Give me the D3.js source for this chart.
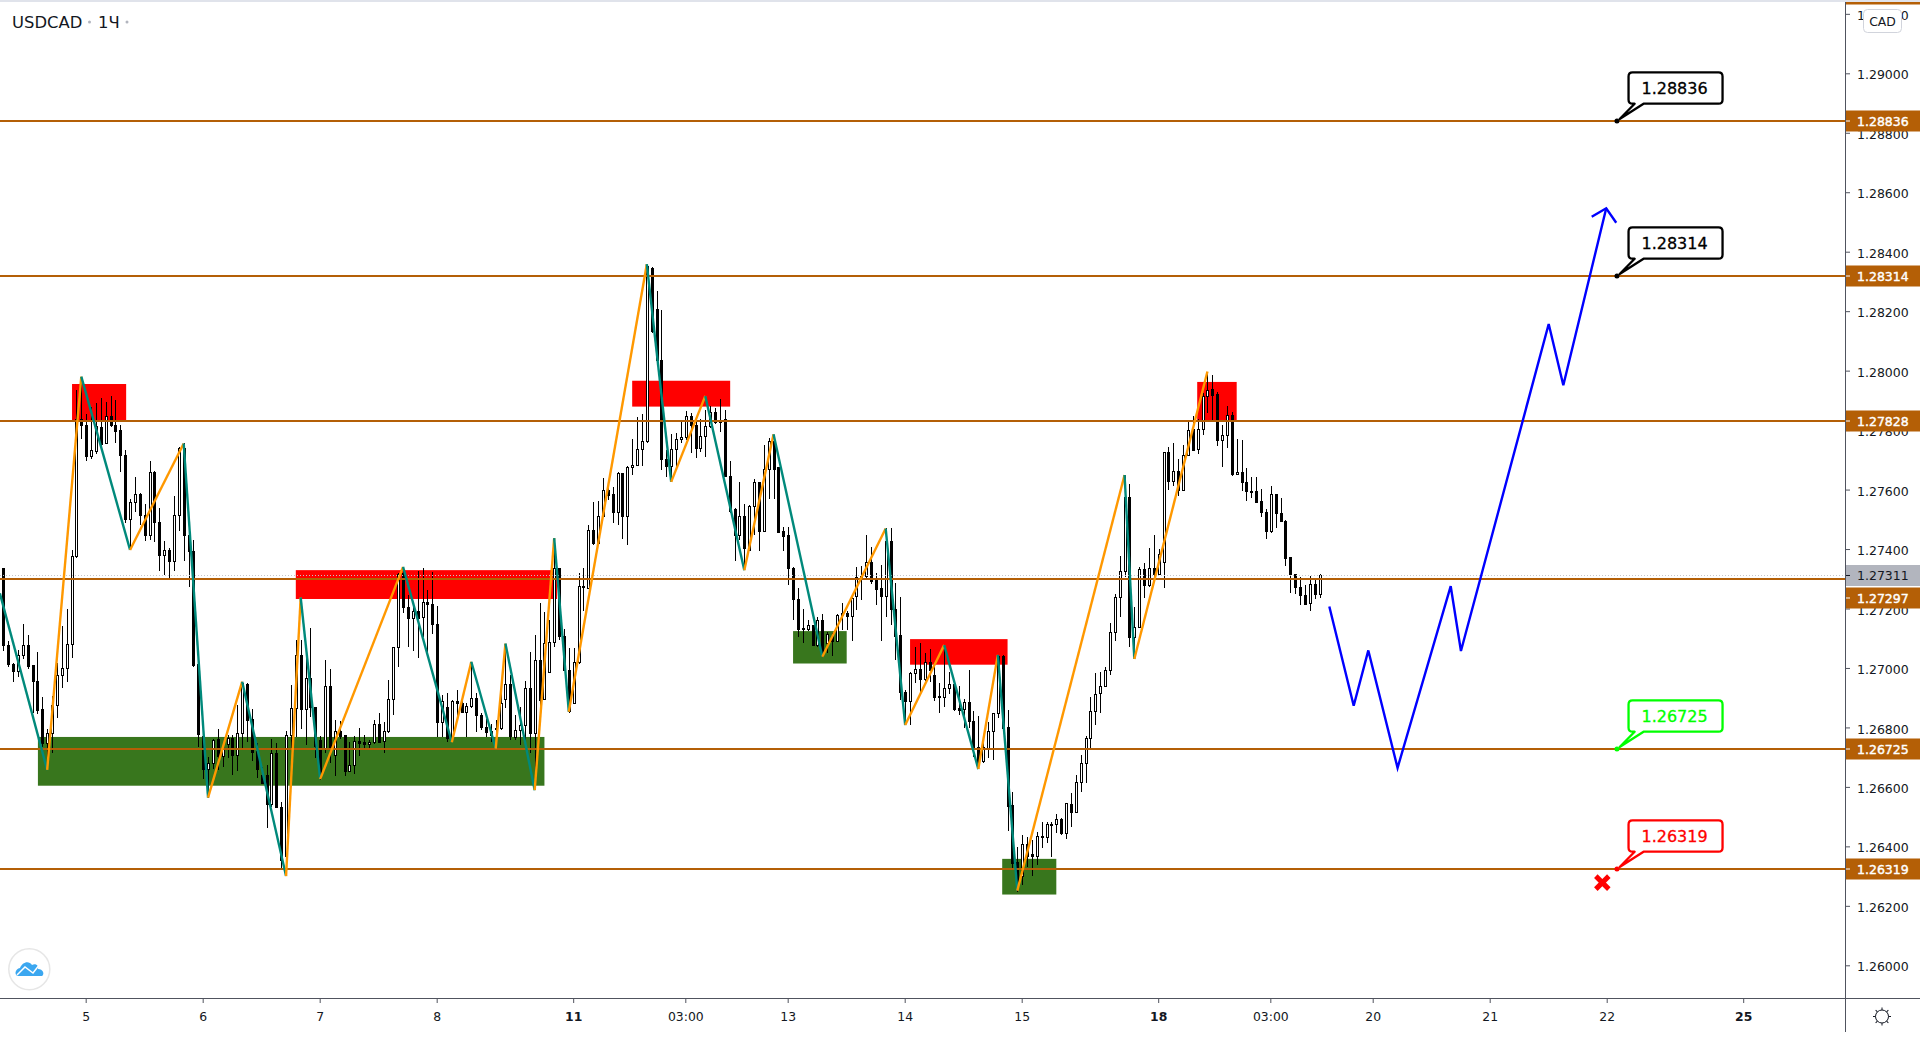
<!DOCTYPE html>
<html>
<head>
<meta charset="utf-8">
<script src="https://cdn.jsdelivr.net/npm/d3@7"></script>
<style>
  html, body { margin: 0; background: #fff; overflow: hidden; }
  text { font-family: "DejaVu Sans", sans-serif; }
</style>
</head>
<body>
<div class="canvas"></div>
<script>
// Hourly candles, prices in 1e-5 units
const opens = [
127333,127077,127013,126988,127042,127074,127007,126955,126859,126746,
126780,126875,126975,126999,127079,127375,127836,127817,127711,127727,
127809,127755,127846,127817,127797,127715,127500,127557,127585,127513,
127445,127658,127490,127378,127396,127357,127513,127739,127445,127392,
127010,126769,126659,126679,126758,126702,126741,126763,126707,126780,
126945,126827,126718,126640,126640,126540,126713,126531,126365,126773,
126864,127042,126859,126965,126867,126757,126729,126939,126705,126787,
126773,126651,126672,126754,126751,126743,126748,126811,126753,126787,
126894,127069,127318,127204,127165,127190,127169,127221,127214,127146,
126816,126867,126762,126887,126881,126850,126869,126898,126839,126800,
126785,126797,126796,126894,126945,126767,126790,126806,126931,126778,
127025,126894,126984,127086,127335,127105,126993,126881,127019,127275,
127268,127464,127419,127511,127596,127585,127522,127654,127509,127674,
127680,127735,127761,128345,128204,128035,127701,127677,127735,127769,
127775,127845,127816,127738,127778,127813,127859,127825,127834,127645,
127533,127444,127511,127396,127542,127624,127460,127668,127762,127673,
127460,127444,127335,127231,127134,127131,127143,127077,127161,127083,
127105,127088,127183,127183,127172,127240,127301,127307,127355,127293,
127268,127240,127427,127197,127108,126919,126887,126982,126995,126962,
127019,126975,126904,126901,126932,126945,126862,126859,126885,126821,
126733,126684,126730,126786,126848,127040,126800,126536,126345,126298,
126407,126373,126365,126433,126430,126474,126472,126491,126444,126541,
126513,126614,126679,126763,126853,126913,126937,126991,127119,127238,
127324,127574,127102,127137,127330,127277,127335,127315,127354,127725,
127627,127662,127597,127714,127801,127736,127803,127913,127935,127921,
127765,127783,127848,127650,127658,127625,127594,127592,127561,127524,
127459,127584,127520,127494,127371,127313,127271,127243,127216,127282,127248]
const highs = [
127333,127091,127016,127060,127148,127110,127007,127054,126903,126794,
126906,127016,127141,127198,127397,127935,127980,127854,127879,127890,
127908,127893,127915,127901,127817,127733,127567,127642,127587,127550,
127696,127662,127537,127427,127402,127578,127742,127755,127447,127430,
127010,126775,126702,126760,126794,126735,126775,126775,126875,126954,
126948,126861,126746,126668,126672,126761,126749,126550,126788,126942,
127094,127094,127049,127136,126869,126771,127026,126998,126825,126821,
126774,126752,126771,126797,126774,126757,126825,126847,126819,126961,
127069,127318,127340,127245,127211,127327,127335,127262,127324,127208,
126909,126917,126892,126926,126898,126881,127021,126917,126847,126830,
126813,126825,126948,127082,126978,126841,126869,126956,127054,127111,
127217,127189,127161,127396,127336,127131,127066,127066,127318,127335,
127481,127557,127561,127639,127632,127609,127660,127654,127680,127769,
127843,127854,128355,128347,128267,128204,127733,127787,127791,127834,
127864,127856,127828,127839,127867,127881,127873,127904,127867,127696,
127537,127625,127553,127548,127637,127624,127750,127772,127783,127677,
127473,127473,127340,127268,127197,127163,127146,127172,127183,127122,
127116,127183,127220,127192,127240,127338,127343,127447,127408,127318,
127346,127470,127470,127285,127240,126926,126985,127069,127083,127049,
127063,127010,126948,127072,126988,126945,126941,126895,126993,126855,
126839,126775,126819,126850,127044,127042,126859,126584,126399,126438,
126433,126422,126447,126483,126483,126483,126508,126494,126545,126578,
126640,126707,126771,126901,126982,126985,127002,127150,127249,127377,
127649,127619,127206,127341,127354,127402,127447,127399,127727,127742,
127756,127702,127750,127834,127848,127836,127924,127997,127986,127927,
127817,127882,127862,127769,127767,127672,127641,127641,127601,127534,
127612,127584,127571,127498,127374,127316,127307,127279,127309,127298,127315]
const lows = [
127058,127004,126954,126968,127031,126995,126850,126845,126735,126657,
126713,126833,126934,126954,127035,127370,127770,127697,127702,127720,
127733,127753,127811,127758,127660,127489,127402,127526,127481,127428,
127430,127425,127327,127313,127304,127326,127461,127361,127273,127004,
126735,126627,126562,126660,126657,126668,126698,126640,126653,126730,
126752,126687,126631,126612,126463,126531,126530,126320,126300,126730,
126769,126794,126741,126836,126696,126623,126713,126679,126637,126760,
126637,126649,126645,126704,126729,126729,126744,126751,126715,126782,
126841,127004,127186,127071,127057,127032,127105,127054,127114,126769,
126769,126752,126752,126825,126847,126769,126864,126785,126791,126769,
126752,126729,126791,126864,126757,126757,126741,126735,126713,126589,
126858,126892,126982,127071,127094,126991,126849,126878,127015,127192,
127264,127413,127415,127509,127565,127488,127481,127435,127413,127649,
127678,127679,127757,128128,128030,127666,127643,127626,127677,127755,
127766,127722,127705,127727,127708,127806,127822,127794,127643,127520,
127361,127430,127335,127394,127447,127394,127458,127569,127567,127453,
127394,127279,127163,127105,127085,127125,127074,127071,127036,127049,
127041,127086,127127,127127,127090,127195,127228,127296,127284,127212,
127092,127173,127145,127027,126892,126819,126808,126948,126913,126957,
126954,126889,126850,126868,126913,126856,126842,126797,126797,126702,
126677,126682,126696,126691,126831,126795,126453,126326,126248,126270,
126332,126302,126337,126393,126410,126363,126444,126438,126424,126464,
126511,126584,126614,126724,126808,126848,126935,126976,127092,127173,
127305,127069,127029,127133,127234,127273,127307,127313,127268,127599,
127612,127579,127595,127712,127731,127720,127785,127857,127831,127747,
127677,127741,127647,127648,127595,127560,127573,127556,127509,127433,
127455,127470,127490,127344,127253,127249,127211,127211,127193,127233,127236]
const closes = [
127074,127010,126988,127042,127074,127004,126954,126856,126746,126780,
126875,126975,126999,127079,127375,127834,127815,127711,127730,127811,
127753,127846,127815,127795,127714,127498,127557,127584,127513,127445,
127658,127489,127378,127396,127357,127513,127739,127445,127391,127007,
126775,126659,126679,126755,126702,126730,126763,126707,126780,126948,
126825,126715,126660,126612,126540,126713,126530,126354,126773,126864,
127042,126859,126965,126866,126735,126629,126939,126729,126787,126771,
126651,126672,126753,126747,126742,126750,126810,126751,126787,126894,
127069,127316,127202,127165,127190,127168,127220,127213,127145,126816,
126887,126762,126887,126880,126849,126872,126898,126839,126800,126782,
126774,126794,126881,126945,126769,126790,126806,126931,126778,127025,
126892,127082,127086,127335,127105,126993,126853,127019,127275,127271,
127464,127417,127511,127598,127581,127522,127654,127509,127674,127681,
127735,127762,128349,128131,128033,127701,127677,127735,127769,127775,
127845,127815,127738,127778,127813,127859,127825,127833,127645,127525,
127444,127511,127402,127544,127624,127460,127668,127762,127669,127456,
127441,127335,127231,127130,127131,127142,127077,127161,127038,127113,
127088,127175,127175,127172,127234,127305,127307,127354,127290,127265,
127240,127427,127195,127105,126917,126887,126982,126995,126960,127019,
126993,126900,126900,126932,126945,126859,126856,126883,126819,126730,
126679,126733,126786,126848,127040,126797,126534,126343,126276,126407,
126365,126365,126433,126431,126473,126471,126491,126444,126543,126513,
126614,126679,126763,126854,126911,126937,126991,127119,127238,127324,
127574,127102,127137,127330,127277,127335,127313,127380,127725,127627,
127662,127597,127715,127799,127733,127803,127913,127934,127918,127765,
127783,127848,127649,127658,127625,127593,127590,127558,127523,127459,
127584,127519,127492,127369,127313,127270,127243,127215,127281,127247,127310]

// Zigzag pivots, first leg goes down then they alternate
const zigBars = [-0.7,9,16,26,37,42,49,58,61,65,82,92,96,101,103,109,113,116,132,137,144,152,158,168,181,185,193,200,204,208,230,232,247]
const zigPrices = [127251,126657,127980,127397,127755,126564,126954,126300,127237,126626,127340,126750,127021,126729,127082,126589,127437,126853,128358,127626,127915,127329,127786,127038,127469,126808,127077,126660,127044,126251,127649,127030,127997]

// Supply and demand zones: bar from, bar to, price top, price bottom
const redZones = [
  [14.1, 25.2, 127955, 127834],
  [60.0, 113.6, 127329, 127232],
  [129.0, 149.1, 127966, 127879],
  [186.0, 206.0, 127097, 127011],
  [244.9, 253.0, 127962, 127834]
]
const greenZones = [
  [7.1, 111.0, 126768, 126604],
  [162.0, 173.0, 127124, 127015],
  [204.9, 216.0, 126358, 126238]
]

// Forecast path
const pathBars = [272, 277, 280, 286, 296.9, 299, 317, 320, 328.8]
const pathPrices = [127207, 126873, 127059, 126664, 127275, 127057, 128157, 127951, 128546]

const levels = [128836, 128314, 127828, 127297, 126725, 126319]
const offTopPrice = 129263   // only the bottom edge of this label is on screen
const lastPrice = 127311

const callouts = [
  {price: 128836, color: '#000000'},
  {price: 128314, color: '#000000'},
  {price: 126725, color: '#00ff00'},
  {price: 126319, color: '#ff0000'}
]
const calloutBar = 331
const stopBar = 328
const stopPrice = 126278

const priceTicks = [126000,126200,126400,126600,126800,127000,127200,127400,127600,127800,128000,128200,128400,128600,128800,129000,129200]
const timeBars = [17, 41, 65, 89, 117, 140, 161, 185, 209, 237, 260, 281, 305, 329, 357]
const timeLabels = ['5', '6', '7', '8', '11', '03:00', '13', '14', '15', '18', '03:00', '20', '21', '22', '25']
const boldTimes = ['11', '18', '25']

// Setting constants
const wWidth = 1920
const wHeight = 1038
const plotRight = 1845
const plotBottom = 998
const brown = '#b45f06'
const inkColor = '#131722'
const axisColor = '#50535e'
const fmt = d => (d / 1e5).toFixed(5)

const svg = d3.select('.canvas')
    .append('svg')
    .attr('width', wWidth)
    .attr('height', wHeight)
    .style('display', 'block')

svg.append('clipPath').attr('id', 'plot')
  .append('rect').attr('x', 0).attr('y', 2).attr('width', plotRight).attr('height', plotBottom - 2)

const xScale = d3.scaleLinear().domain([0, 357]).range([3.3, 1743.7])
const yScale = d3.scaleLinear().domain([126000, 129000]).range([965.3, 73.3])
// levels land on whole pixels, a bit above the raw scale
const levelY = p => Math.round(yScale(p)) - 1

const plot = svg.append('g').attr('clip-path', 'url(#plot)')

// Zones sit under everything
const zoneRect = (sel, color) => sel
    .attr('x', d => xScale(d[0]))
    .attr('width', d => xScale(d[1]) - xScale(d[0]))
    .attr('y', d => yScale(d[2]))
    .attr('height', d => yScale(d[3]) - yScale(d[2]))
    .attr('fill', color)
plot.append('g').selectAll('rect').data(redZones).join('rect').call(zoneRect, '#ff0000')
plot.append('g').selectAll('rect').data(greenZones).join('rect').call(zoneRect, '#38761d')

// Candles
const candles = opens.map((o, i) => ({i, o, h: highs[i], l: lows[i], c: closes[i]}))
const candle = plot.append('g').attr('shape-rendering', 'crispEdges')
  .selectAll('g').data(candles).join('g')
candle.append('line')
    .attr('x1', d => Math.round(xScale(d.i)) + 0.5)
    .attr('x2', d => Math.round(xScale(d.i)) + 0.5)
    .attr('y1', d => yScale(d.h))
    .attr('y2', d => yScale(d.l))
    .attr('stroke', '#000')
candle.append('rect')
    .attr('x', d => Math.round(xScale(d.i)) - 0.5)
    .attr('width', 2)
    .attr('y', d => yScale(Math.max(d.o, d.c)))
    .attr('height', d => Math.max(1, yScale(Math.min(d.o, d.c)) - yScale(Math.max(d.o, d.c))))
    .attr('fill', d => d.c >= d.o ? '#fff' : '#000')
    .attr('stroke', '#000')

// Last price dotted line and the horizontal levels
plot.append('line')
    .attr('x1', 0).attr('x2', plotRight)
    .attr('y1', yScale(lastPrice)).attr('y2', yScale(lastPrice))
    .attr('stroke', '#c4c6cc')
    .attr('stroke-dasharray', '1 2')
plot.append('g').attr('shape-rendering', 'crispEdges').selectAll('line').data(levels).join('line')
    .attr('x1', 0).attr('x2', plotRight)
    .attr('y1', levelY).attr('y2', levelY)
    .attr('stroke', brown)
    .attr('stroke-width', 2)

// Zigzag legs
const legs = zigBars.slice(1).map((b, i) => ({
  x1: zigBars[i], y1: zigPrices[i], x2: b, y2: zigPrices[i + 1], down: i % 2 === 0
}))
plot.append('g').selectAll('line').data(legs).join('line')
    .attr('x1', d => xScale(d.x1)).attr('y1', d => yScale(d.y1))
    .attr('x2', d => xScale(d.x2)).attr('y2', d => yScale(d.y2))
    .attr('stroke', d => d.down ? '#00897b' : '#ff9800')
    .attr('stroke-width', 2.4)

// Forecast arrow
const pathLine = d3.line().x(d => xScale(d[0])).y(d => yScale(d[1]))
const forecast = d3.zip(pathBars, pathPrices)
plot.append('path')
    .attr('d', pathLine(forecast))
    .attr('fill', 'none')
    .attr('stroke', '#0000ff')
    .attr('stroke-width', 2.4)
const tipX = xScale(pathBars[pathBars.length - 1])
const tipY = yScale(pathPrices[pathPrices.length - 1])
plot.append('path')
    .attr('d', `M${tipX - 14.5},${tipY + 8.5}L${tipX},${tipY}L${tipX + 10},${tipY + 14.5}`)
    .attr('fill', 'none')
    .attr('stroke', '#0000ff')
    .attr('stroke-width', 2.4)

// Stop marker
const stopG = plot.append('g')
    .attr('transform', `translate(${xScale(stopBar)},${yScale(stopPrice)})`)
    .attr('stroke', '#ff0000')
    .attr('stroke-width', 5)
stopG.append('line').attr('x1', -6.5).attr('y1', -6.5).attr('x2', 6.5).attr('y2', 6.5)
stopG.append('line').attr('x1', -6.5).attr('y1', 6.5).attr('x2', 6.5).attr('y2', -6.5)

// Callouts with a tail pointing at the level
const callout = plot.append('g').selectAll('g').data(callouts).join('g')
    .attr('transform', d => `translate(${xScale(calloutBar)},${levelY(d.price)})`)
callout.append('path')
    .attr('d', 'M15.6,-48.6H101.6Q105.6,-48.6 105.6,-44.6V-21.3Q105.6,-17.3 101.6,-17.3H26.6L2.7,-2L17.7,-17.3H15.6Q11.6,-17.3 11.6,-21.3V-44.6Q11.6,-48.6 15.6,-48.6Z')
    .attr('fill', '#fff')
    .attr('stroke', d => d.color)
    .attr('stroke-width', 2.3)
    .attr('stroke-linejoin', 'round')
callout.append('circle')
    .attr('r', 2.5)
    .attr('fill', d => d.color)
callout.append('text')
    .attr('x', 57.6).attr('y', -27.3)
    .attr('text-anchor', 'middle')
    .attr('font-size', 16)
    .attr('fill', d => d.color)
    .attr('stroke', d => d.color)
    .attr('stroke-width', 0.3)
    .text(d => fmt(d.price))

// Axes
const yAxis = d3.axisRight(yScale).tickValues(priceTicks).tickFormat(fmt).tickSize(5).tickPadding(7)
const yAxisGroup = svg.append('g').attr('transform', `translate(${plotRight},0)`).call(yAxis)
yAxisGroup.select('.domain').remove()
yAxisGroup.selectAll('line').attr('stroke', axisColor)
yAxisGroup.selectAll('text')
    .attr('font-size', 12.5).attr('fill', inkColor)
    .attr('font-family', '"DejaVu Sans", sans-serif')
    .attr('dy', '0.45em')

const xAxis = d3.axisBottom(xScale).tickValues(timeBars).tickFormat((d, i) => timeLabels[i]).tickSize(5).tickPadding(9)
const xAxisGroup = svg.append('g').attr('transform', `translate(-0.5,${plotBottom})`).call(xAxis)
xAxisGroup.select('.domain').remove()
xAxisGroup.selectAll('line').attr('stroke', axisColor)
xAxisGroup.selectAll('text')
    .attr('font-size', 12.4)
    .attr('fill', inkColor)
    .attr('font-family', '"DejaVu Sans", sans-serif')
    .attr('font-weight', (d, i) => boldTimes.includes(timeLabels[i]) ? 'bold' : 'normal')

// Price labels on the axis, a level under the last price gets pushed below it
const lastY = yScale(lastPrice)
const labelY = p => {
  const y = levelY(p)
  return Math.abs(y - lastY) < 21 ? lastY + 22.5 : y
}
const labels = svg.append('g').selectAll('g').data(levels).join('g')
    .attr('transform', d => `translate(${plotRight},${labelY(d)})`)
labels.append('rect')
    .attr('y', -10.5).attr('width', wWidth - plotRight).attr('height', 21)
    .attr('fill', brown)
labels.append('line').attr('x2', 5).attr('stroke', '#fff')
labels.append('text')
    .attr('x', 12).attr('dy', '0.38em')
    .attr('font-size', 12.5).attr('fill', '#fff')
    .attr('stroke', '#fff').attr('stroke-width', 0.4)
    .text(fmt)
svg.append('rect')
    .attr('x', plotRight).attr('y', levelY(offTopPrice) - 10.5)
    .attr('width', wWidth - plotRight).attr('height', 21)
    .attr('fill', brown)
const lastLabel = svg.append('g').attr('transform', `translate(${plotRight},${lastY})`)
lastLabel.append('rect').attr('y', -10.5).attr('width', wWidth - plotRight).attr('height', 21).attr('fill', '#b2b5be')
lastLabel.append('line').attr('x2', 5).attr('stroke', inkColor)
lastLabel.append('text').attr('x', 12).attr('dy', '0.38em')
    .attr('font-size', 12.5).attr('fill', inkColor).text(fmt(lastPrice))

// Frame of the chart
svg.append('rect').attr('width', wWidth).attr('height', 2).attr('fill', '#e0e3eb')
svg.append('line').attr('x1', plotRight + 0.5).attr('x2', plotRight + 0.5).attr('y1', 2).attr('y2', 1032).attr('stroke', axisColor).attr('stroke-width', 1)
svg.append('line').attr('x1', 0).attr('x2', wWidth).attr('y1', plotBottom + 0.5).attr('y2', plotBottom + 0.5).attr('stroke', axisColor)

// CAD badge
svg.append('rect')
    .attr('x', 1863.5).attr('y', 9.5).attr('width', 38).attr('height', 23).attr('rx', 4)
    .attr('fill', '#fff').attr('stroke', '#d1d4dc')
svg.append('text')
    .attr('x', 1882.5).attr('y', 25.5).attr('text-anchor', 'middle')
    .attr('font-size', 12.4).attr('fill', inkColor).text('CAD')

// Symbol title
svg.append('text').attr('x', 12).attr('y', 28).attr('font-size', 16.4).attr('fill', inkColor).text('USDCAD')
svg.append('text').attr('x', 98).attr('y', 28).attr('font-size', 16.4).attr('fill', inkColor).text('1Ч')
svg.selectAll('circle.dot').data([89.5, 127]).join('circle')
    .attr('class', 'dot').attr('cx', d => d).attr('cy', 22).attr('r', 1.5).attr('fill', '#b2b5be')

// Logo bubble
const logo = svg.append('g')
logo.append('circle').attr('cx', 29.3).attr('cy', 969.3).attr('r', 20.5).attr('fill', '#fff').attr('stroke', '#e6e6e6').attr('stroke-width', 1.5)
logo.append('path')
    .attr('d', 'M18,976C14,975 15,969 20,968C22,962 29,960 32,965C36,963 39,966 38,969C43,969 45,974 42,976Z')
    .attr('fill', '#3ba7f0')
logo.append('path')
    .attr('d', 'M17,975L25,967L33,973L40,964')
    .attr('fill', 'none').attr('stroke', '#fff').attr('stroke-width', 1.5)

// Settings gear
const gear = svg.append('g').attr('transform', 'translate(1882,1016.5)').attr('fill', 'none').attr('stroke', inkColor)
gear.append('circle').attr('r', 6.5)
gear.selectAll('line').data(d3.range(8)).join('line')
    .attr('y1', -6.5).attr('y2', -9)
    .attr('transform', d => `rotate(${d * 45})`)
</script>
</body>
</html>
